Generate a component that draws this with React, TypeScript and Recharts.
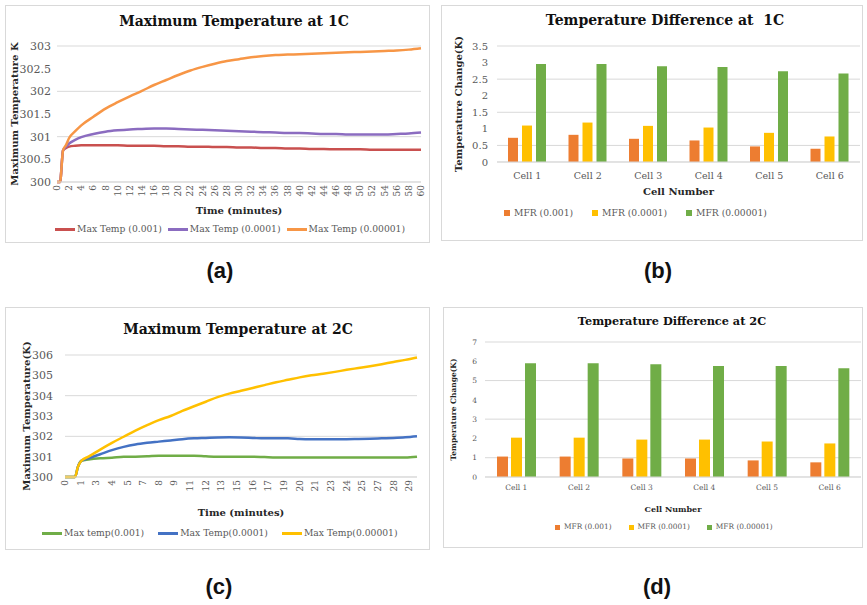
import React from 'react';
import { LineChart, Line, BarChart, Bar, XAxis, YAxis, CartesianGrid, Legend, Label } from 'recharts';

const SERIF = '"DejaVu Serif", serif';
const GRAY = '#595959';
const GRID = '#d9d9d9';

// (a) Maximum temperature at 1C
const timeA = [0, 0.5, 1, 1.5, 2, 3, 4, 6, 8, 10, 12, 14, 16, 18, 20, 22, 24, 26, 28, 30, 32, 34, 36, 38, 40, 42, 44, 46, 48, 50, 52, 54, 56, 58, 60];
const tempA001 = [300, 300, 300.7, 300.75, 300.78, 300.8, 300.81, 300.81, 300.81, 300.81, 300.8, 300.8, 300.8, 300.79, 300.79, 300.78, 300.78, 300.77, 300.77, 300.76, 300.76, 300.75, 300.75, 300.74, 300.74, 300.73, 300.73, 300.72, 300.72, 300.72, 300.71, 300.71, 300.71, 300.71, 300.71];
const tempA0001 = [300, 300, 300.7, 300.78, 300.85, 300.93, 300.99, 301.06, 301.11, 301.14, 301.16, 301.17, 301.18, 301.18, 301.17, 301.16, 301.15, 301.14, 301.13, 301.12, 301.11, 301.1, 301.09, 301.08, 301.08, 301.07, 301.06, 301.06, 301.05, 301.05, 301.05, 301.05, 301.06, 301.07, 301.09];
const tempA00001 = [300, 300, 300.7, 300.82, 300.97, 301.12, 301.25, 301.44, 301.62, 301.76, 301.89, 302.01, 302.14, 302.25, 302.36, 302.46, 302.54, 302.61, 302.67, 302.71, 302.75, 302.78, 302.8, 302.81, 302.82, 302.83, 302.84, 302.85, 302.86, 302.87, 302.88, 302.89, 302.9, 302.92, 302.95];
const ticksA = [0, 2, 4, 6, 8, 10, 12, 14, 16, 18, 20, 22, 24, 26, 28, 30, 32, 34, 36, 38, 40, 42, 44, 46, 48, 50, 52, 54, 56, 58, 60];
const yTicksA = [300, 300.5, 301, 301.5, 302, 302.5, 303];

// (c) Maximum temperature at 2C
const timeC = [0, 0.5, 0.85, 1.1, 1.4, 2, 3, 4, 5, 6, 7, 8, 9, 10, 11, 12, 13, 14, 15, 16, 17, 18, 19, 20, 21, 22, 23, 24, 25, 26, 27, 28, 29, 30];
const tempC001 = [300, 300, 300, 300.5, 300.8, 300.86, 300.92, 300.95, 300.99, 301.0, 301.02, 301.05, 301.05, 301.05, 301.05, 301.02, 301.0, 301.0, 301.0, 301.0, 300.98, 300.96, 300.96, 300.96, 300.96, 300.96, 300.96, 300.96, 300.96, 300.96, 300.96, 300.96, 300.96, 301.0];
const tempC0001 = [300, 300, 300, 300.5, 300.8, 300.92, 301.12, 301.32, 301.48, 301.6, 301.68, 301.74, 301.8, 301.86, 301.9, 301.92, 301.94, 301.95, 301.94, 301.92, 301.9, 301.9, 301.9, 301.87, 301.86, 301.86, 301.86, 301.86, 301.87, 301.88, 301.9, 301.92, 301.95, 302.0];
const tempC00001 = [300, 300, 300, 300.5, 300.8, 301.0, 301.35, 301.68, 301.98, 302.28, 302.55, 302.8, 303.0, 303.25, 303.48, 303.7, 303.93, 304.1, 304.24, 304.38, 304.52, 304.66, 304.78, 304.9, 305.0, 305.08, 305.17, 305.27, 305.36, 305.45, 305.55, 305.66, 305.76, 305.88];
const ticksC = [0, 1.33, 2.67, 4, 5.33, 6.67, 8, 9.33, 10.67, 12, 13.33, 14.67, 16, 17.33, 18.67, 20, 21.33, 22.67, 24, 25.33, 26.67, 28, 29.33];
const yTicksC = [300, 301, 302, 303, 304, 305, 306];

// (b), (d) temperature difference per cell
const cells = ['Cell 1', 'Cell 2', 'Cell 3', 'Cell 4', 'Cell 5', 'Cell 6'];
const diff1C001 = [0.73, 0.82, 0.7, 0.65, 0.47, 0.4];
const diff1C0001 = [1.1, 1.19, 1.09, 1.04, 0.88, 0.77];
const diff1C00001 = [2.96, 2.96, 2.89, 2.87, 2.74, 2.67];
const diff2C001 = [1.06, 1.06, 0.96, 0.96, 0.86, 0.76];
const diff2C0001 = [2.04, 2.04, 1.94, 1.94, 1.84, 1.74];
const diff2C00001 = [5.9, 5.9, 5.85, 5.76, 5.75, 5.64];
const yTicksB = [0, 0.5, 1, 1.5, 2, 2.5, 3, 3.5];
const yTicksD = [0, 1, 2, 3, 4, 5, 6, 7];

const dataA = timeA.map((t, i) => ({ t, a: tempA001[i], b: tempA0001[i], c: tempA00001[i] }));
const dataC = timeC.map((t, i) => ({ t, a: tempC001[i], b: tempC0001[i], c: tempC00001[i] }));
const dataB = cells.map((cell, i) => ({ cell, a: diff1C001[i], b: diff1C0001[i], c: diff1C00001[i] }));
const dataD = cells.map((cell, i) => ({ cell, a: diff2C001[i], b: diff2C0001[i], c: diff2C00001[i] }));

const AxisTitle = (props: any) => {
  const { viewBox, text, vertical, shift, size } = props;
  const { x, y, width, height } = viewBox;
  const style = { fontFamily: SERIF, fontWeight: 700, fontSize: size, fill: '#262626' };
  if (vertical) {
    const cx = x + shift;
    const cy = y + height / 2 + (props.dy || 0);
    return (
      <text x={cx} y={cy} transform={`rotate(-90 ${cx} ${cy})`} textAnchor="middle" dominantBaseline="central" style={style}>
        {text}
      </text>
    );
  }
  return (
    <text x={x + width / 2 + (props.dx || 0)} y={y + shift} textAnchor="middle" dominantBaseline="central" style={style}>
      {text}
    </text>
  );
};

const RotTick = (props: any) => {
  const { x, y, payload } = props;
  return (
    <text x={x} y={y} transform={`rotate(-90 ${x} ${y})`} textAnchor="end" dominantBaseline="central" fontSize={9} fill={GRAY} fontFamily={SERIF}>
      {Math.round(payload.value)}
    </text>
  );
};

// keep the series order a, b, c in the legend
const ordered = (payload: any[] = []) => [...payload].sort((p, q) => String(p.dataKey).localeCompare(String(q.dataKey)));

const lineLegend = (fontSize: number, gap: number) => (props: any) => (
  <div style={{ display: 'flex', alignItems: 'center', fontFamily: SERIF, fontSize, color: GRAY, whiteSpace: 'nowrap', lineHeight: '12px' }}>
    {ordered(props.payload).map((p: any) => (
      <div key={p.value} style={{ display: 'flex', alignItems: 'center', marginRight: gap }}>
        <span style={{ display: 'inline-block', width: 20, height: 3, background: p.color, marginRight: 2 }} />
        <span>{p.value}</span>
      </div>
    ))}
  </div>
);

const barLegend = (fontSize: number, box: number, gap: number) => (props: any) => (
  <div style={{ display: 'flex', alignItems: 'center', fontFamily: SERIF, fontSize, color: GRAY, whiteSpace: 'nowrap', lineHeight: '12px' }}>
    {ordered(props.payload).map((p: any) => (
      <div key={p.value} style={{ display: 'flex', alignItems: 'center', marginRight: gap }}>
        <span style={{ display: 'inline-block', width: box, height: box, background: p.color, marginRight: 4 }} />
        <span>{p.value}</span>
      </div>
    ))}
  </div>
);

const Panel = ({ left, top, width, height, children }: any) => (
  <div style={{ position: 'absolute', left, top, width, height, border: `1px solid ${GRID}`, boxSizing: 'border-box' }}>
    <div style={{ position: 'absolute', left: -1, top: -1 }}>{children}</div>
  </div>
);

const Title = ({ cx, cy, size, text }: any) => (
  <div style={{ position: 'absolute', left: cx - 200, top: cy - 10, width: 400, height: 20, lineHeight: '20px', textAlign: 'center', fontFamily: SERIF, fontWeight: 700, fontSize: size, color: '#111', whiteSpace: 'pre' }}>
    {text}
  </div>
);

const PanelTag = ({ cx, cy, text }: any) => (
  <div style={{ position: 'absolute', left: cx - 30, top: cy - 13, width: 60, lineHeight: '26px', textAlign: 'center', fontFamily: '"Liberation Sans", Arial, sans-serif', fontWeight: 700, fontSize: 22, color: '#111' }}>
    {text}
  </div>
);

const tickStyle = (size: number) => ({ fontSize: size, fill: GRAY, fontFamily: SERIF });

export default function App() {
  return (
    <div style={{ position: 'absolute', left: 0, top: 0, width: 867, height: 605, background: '#fff', overflow: 'hidden' }}>
      {/* (a) */}
      <Panel left={5} top={5} width={425} height={238}>
        <LineChart width={425} height={238} data={dataA} margin={{ top: 41, right: 9, left: 0, bottom: 23 }}>
          <CartesianGrid vertical={false} stroke={GRID} />
          <XAxis type="number" dataKey="t" domain={[0, 60]} ticks={ticksA} interval={0} height={38} tickSize={0} tickMargin={3} tick={<RotTick />} stroke={GRID}>
            <Label content={<AxisTitle text="Time (minutes)" shift={28} size={10} />} />
          </XAxis>
          <YAxis domain={[300, 303]} ticks={yTicksA} width={52} tickSize={0} tickMargin={6} axisLine={false} tick={tickStyle(11)}>
            <Label content={<AxisTitle vertical text="Maximum Temperature K" shift={9} size={10} />} />
          </YAxis>
          <Legend verticalAlign="middle" align="center" wrapperStyle={{ top: 218, left: 50, width: 380 }} content={lineLegend(9.2, 6)} />
          <Line type="monotone" dataKey="a" name="Max Temp (0.001)" stroke="#C9504F" strokeWidth={2.5} dot={false} isAnimationActive={false} />
          <Line type="monotone" dataKey="b" name="Max Temp (0.0001)" stroke="#8B6CC0" strokeWidth={2.5} dot={false} isAnimationActive={false} />
          <Line type="monotone" dataKey="c" name="Max Temp (0.00001)" stroke="#F79646" strokeWidth={2.5} dot={false} isAnimationActive={false} />
        </LineChart>
        <Title cx={229} cy={16} size={14} text="Maximum Temperature at 1C" />
      </Panel>

      {/* (b) */}
      <Panel left={441} top={5} width={422} height={236}>
        <BarChart width={422} height={236} data={dataB} margin={{ top: 41, right: 3, left: 0, bottom: 44 }} barSize={10} barGap={4}>
          <CartesianGrid vertical={false} stroke={GRID} />
          <XAxis dataKey="cell" height={35} tickSize={0} tickMargin={10} tick={tickStyle(9.5)} stroke={GRID}>
            <Label content={<AxisTitle text="Cell Number" shift={29} size={10} />} />
          </XAxis>
          <YAxis domain={[0, 3.5]} ticks={yTicksB} width={56} tickSize={0} tickMargin={9} axisLine={false} tick={tickStyle(10)}>
            <Label content={<AxisTitle vertical text="Temperature Change(K)" shift={17} size={10} />} />
          </YAxis>
          <Legend verticalAlign="middle" align="center" wrapperStyle={{ top: 202, left: 63, width: 350 }} content={barLegend(9.2, 6, 19)} />
          <Bar dataKey="a" name="MFR (0.001)" fill="#ED7D31" isAnimationActive={false} />
          <Bar dataKey="b" name="MFR (0.0001)" fill="#FFC000" isAnimationActive={false} />
          <Bar dataKey="c" name="MFR (0.00001)" fill="#70AD47" isAnimationActive={false} />
        </BarChart>
        <Title cx={224} cy={15} size={14} text="Temperature Difference at  1C" />
      </Panel>

      {/* (c) */}
      <Panel left={5} top={307} width={425} height={243}>
        <LineChart width={425} height={243} data={dataC} margin={{ top: 48, right: 13, left: 0, bottom: 33 }}>
          <CartesianGrid vertical={false} stroke={GRID} />
          <XAxis type="number" dataKey="t" domain={[0, 30]} ticks={ticksC} interval={0} height={40} tickSize={0} tickMargin={3} tick={<RotTick />} stroke={GRID}>
            <Label content={<AxisTitle text="Time (minutes)" shift={35} size={10} />} />
          </XAxis>
          <YAxis domain={[300, 306]} ticks={yTicksC} width={60} tickSize={0} tickMargin={12} axisLine={false} tick={tickStyle(11)}>
            <Label content={<AxisTitle vertical text="Maximum Temperature(K)" shift={21} size={10} />} />
          </YAxis>
          <Legend verticalAlign="middle" align="center" wrapperStyle={{ top: 220, left: 37, width: 390 }} content={lineLegend(9.2, 14)} />
          <Line type="monotone" dataKey="a" name="Max temp(0.001)" stroke="#70AD47" strokeWidth={2.5} dot={false} isAnimationActive={false} />
          <Line type="monotone" dataKey="b" name="Max Temp(0.0001)" stroke="#4472C4" strokeWidth={2.5} dot={false} isAnimationActive={false} />
          <Line type="monotone" dataKey="c" name="Max Temp(0.00001)" stroke="#FFC000" strokeWidth={2.5} dot={false} isAnimationActive={false} />
        </LineChart>
        <Title cx={233} cy={22} size={14} text="Maximum Temperature at 2C" />
      </Panel>

      {/* (d) */}
      <Panel left={443} top={307} width={420} height={241}>
        <BarChart width={420} height={241} data={dataD} margin={{ top: 35, right: 2, left: 0, bottom: 35 }} barSize={11} barGap={3}>
          <CartesianGrid vertical={false} stroke={GRID} />
          <XAxis dataKey="cell" height={36} tickSize={0} tickMargin={8} tick={tickStyle(7.5)} stroke={GRID}>
            <Label content={<AxisTitle text="Cell Number" shift={32} size={8} />} />
          </XAxis>
          <YAxis domain={[0, 7]} ticks={yTicksD} width={42} tickSize={0} tickMargin={8} axisLine={false} tick={tickStyle(7.5)}>
            <Label content={<AxisTitle vertical text="Temperature Change(K)" shift={10} size={7.5} />} />
          </YAxis>
          <Legend verticalAlign="middle" align="center" wrapperStyle={{ top: 214, left: 112, width: 300 }} content={barLegend(7.4, 5, 17)} />
          <Bar dataKey="a" name="MFR (0.001)" fill="#ED7D31" isAnimationActive={false} />
          <Bar dataKey="b" name="MFR (0.0001)" fill="#FFC000" isAnimationActive={false} />
          <Bar dataKey="c" name="MFR (0.00001)" fill="#70AD47" isAnimationActive={false} />
        </BarChart>
        <Title cx={229} cy={14} size={11.3} text="Temperature Difference at 2C" />
      </Panel>

      <PanelTag cx={220} cy={271} text="(a)" />
      <PanelTag cx={658} cy={271} text="(b)" />
      <PanelTag cx={219} cy={587} text="(c)" />
      <PanelTag cx={657} cy={587} text="(d)" />
    </div>
  );
}
